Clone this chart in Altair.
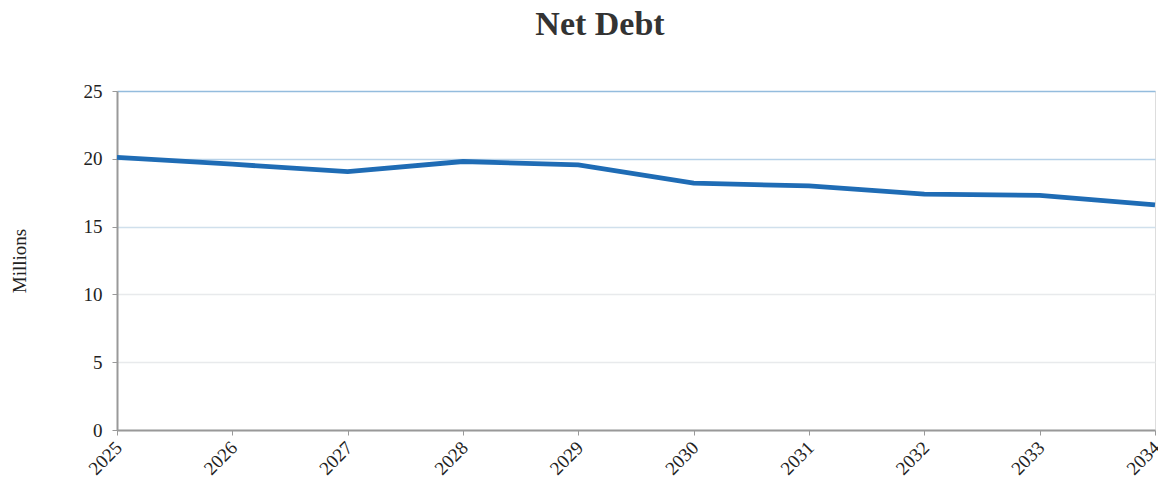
import altair as alt
import pandas as pd

years = ["2025", "2026", "2027", "2028", "2029", "2030", "2031", "2032", "2033", "2034"]
net_debt = [20.1, 19.6, 19.05, 19.8, 19.55, 18.2, 18.0, 17.4, 17.3, 16.6]

df = pd.DataFrame({"Year": years, "Net Debt": net_debt})

serif = "Liberation Serif"

grid_color = {
    "expr": "datum.value == 25 ? '#94bcdd' : datum.value == 20 ? '#b6d1e8' : "
            "datum.value == 15 ? '#d0e0ec' : '#e8eaec'"
}

chart = alt.Chart(df).mark_line(color="#1f6cb5", strokeWidth=4.8).encode(
    x=alt.X("Year:O", sort=years,
            scale=alt.Scale(type="point", padding=0),
            axis=alt.Axis(title=None, labelAngle=-45, labelAlign="right", labelBaseline="top",
                          labelFont=serif, labelFontSize=19, labelColor="#222",
                          domainColor="#999", domainWidth=2, tickColor="#999", tickSize=5,
                          labelPadding=3, labelOffset=-5, grid=False)),
    y=alt.Y("Net Debt:Q", scale=alt.Scale(domain=[0, 25], nice=False),
            axis=alt.Axis(title="Millions", values=[0, 5, 10, 15, 20, 25], format="d",
                          labelFont=serif, labelFontSize=19, labelColor="#222",
                          titleFont=serif, titleFontSize=19, titleFontWeight="normal", titleColor="#222",
                          titlePadding=54, labelPadding=10,
                          domainColor="#999", domainWidth=2, tickColor="#999", tickSize=5,
                          gridColor=grid_color, gridWidth=1.3)),
).properties(
    width=1038, height=339,
    title=alt.TitleParams("Net Debt", font=serif, fontSize=34, fontWeight="bold",
                          color="#333", anchor="middle", dx=-36, offset=40),
    autosize=alt.AutoSizeParams(type="none"),
    padding={"left": 117, "top": 91, "right": 3, "bottom": 59},
).configure_view(stroke=None).configure(background="white")

chart.save("out.html", embed_options={"renderer": "svg", "actions": False})
